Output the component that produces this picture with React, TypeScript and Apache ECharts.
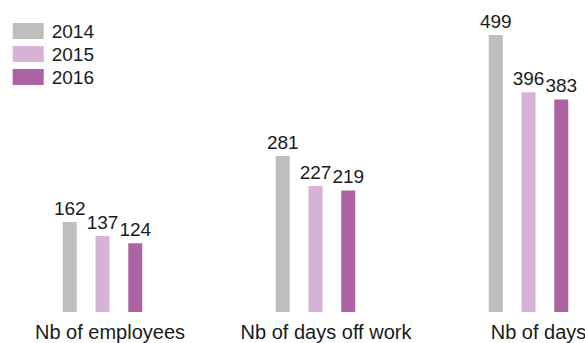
import React, { useEffect, useRef } from "react";
import * as echarts from "echarts";

const categories = ["Nb of employees", "Nb of days off work", "Nb of days"];
const years = ["2014", "2015", "2016"];
const values2014 = [162, 281, 499];
const values2015 = [137, 227, 396];
const values2016 = [124, 219, 383];
const colors = ["#bebebe", "#d6b2d6", "#ad63a3"];
const labelShift = [15, 21, 20];

const FONT = "'Liberation Sans', Arial, sans-serif";
const TEXT = "#1a1a1a";

export default function App() {
  const ref = useRef<HTMLDivElement>(null);
  useEffect(() => {
    if (!ref.current) return;
    const chart = echarts.init(ref.current, undefined, { renderer: "svg" });
    const seriesData = [values2014, values2015, values2016];
    chart.setOption({
      animation: false,
      color: colors,
      textStyle: { fontFamily: FONT, color: TEXT },
      legend: {
        orient: "vertical",
        left: 16.7,
        top: 21.5,
        padding: 0,
        itemWidth: 31,
        itemHeight: 16,
        itemGap: 4,
        icon: "rect",
        data: years,
        textStyle: {
          fontFamily: FONT,
          fontSize: 19,
          color: TEXT,
          lineHeight: 16,
          padding: [0, 0, 3, 3],
        },
      },
      grid: { left: 0, right: 1, top: 34.5, bottom: 31, containLabel: false },
      xAxis: {
        type: "category",
        data: categories.map((c, i) => ({
          value: c,
          textStyle: { padding: [0, 0, 0, labelShift[i]] },
        })),
        axisLine: { show: false },
        axisTick: { show: false },
        axisLabel: {
          interval: 0,
          margin: 10,
          fontSize: 20,
          fontFamily: FONT,
          color: TEXT,
        },
      },
      yAxis: {
        type: "value",
        min: 0,
        max: 500,
        show: false,
        splitLine: { show: false },
      },
      series: years.map((y, i) => ({
        name: y,
        type: "bar",
        data: seriesData[i],
        barWidth: 14,
        barGap: "134%",
        itemStyle: { color: colors[i] },
        label: {
          show: true,
          position: "top",
          distance: 4,
          fontSize: 19,
          fontFamily: FONT,
          color: TEXT,
        },
      })),
    });
    return () => chart.dispose();
  }, []);
  return (
    <div
      style={{
        position: "fixed",
        left: 0,
        top: 0,
        width: 585,
        height: 343,
        overflow: "hidden",
        background: "#fff",
      }}
    >
      <div
        ref={ref}
        style={{ position: "absolute", left: -4, top: 0, width: 640, height: 343 }}
      />
    </div>
  );
}
